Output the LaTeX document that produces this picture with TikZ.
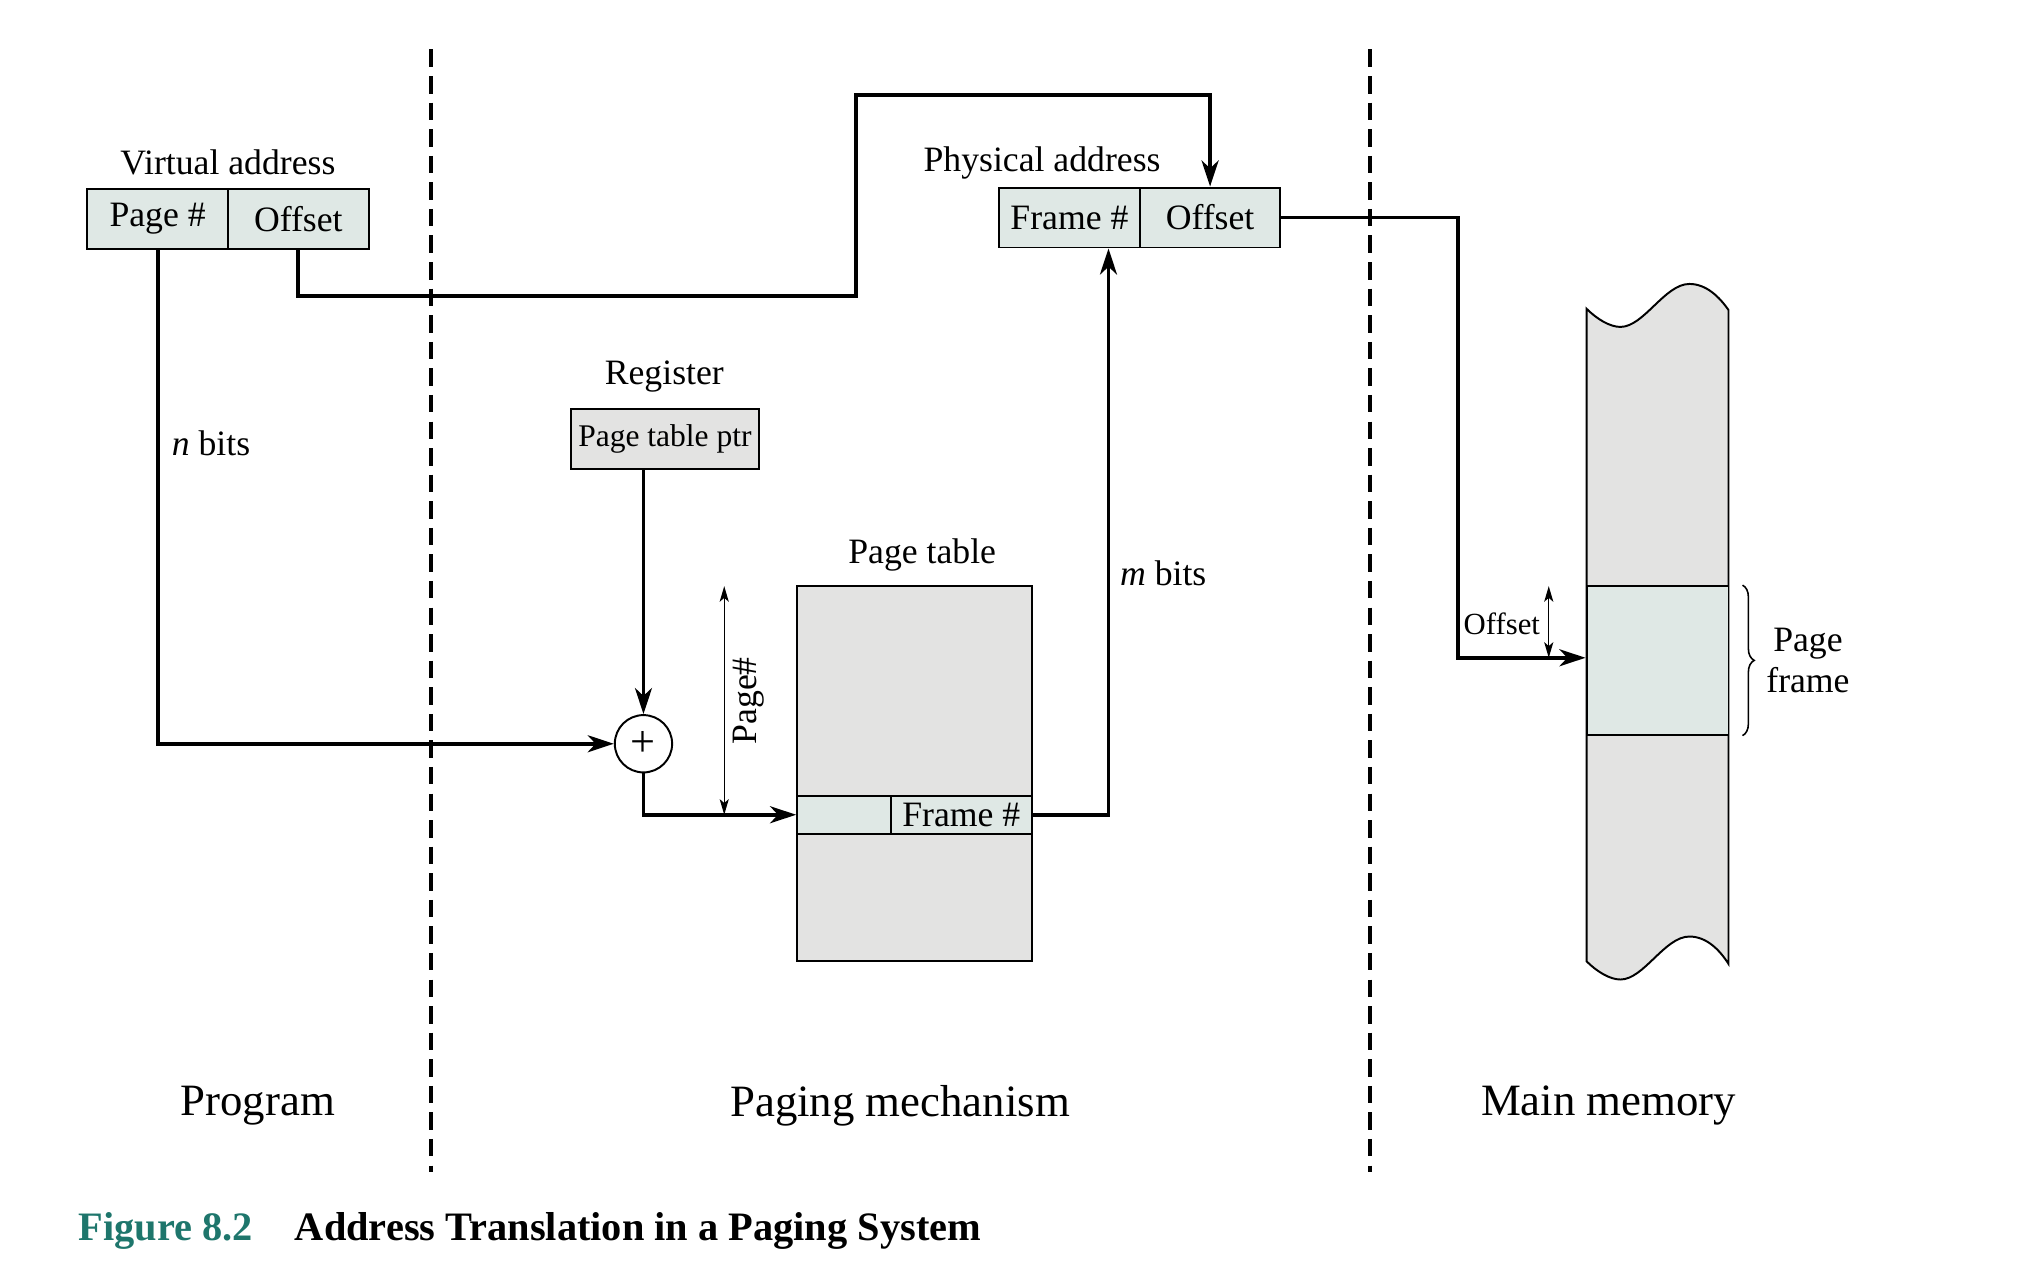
\documentclass[tikz,border=0pt]{standalone}
\usepackage{fontspec}
\setmainfont{Liberation Serif}
\usetikzlibrary{arrows.meta,decorations.pathreplacing}
\definecolor{cellteal}{RGB}{223,232,229}
\definecolor{cellgray}{RGB}{227,227,226}
\definecolor{capteal}{RGB}{30,118,108}
\begin{document}
\begin{tikzpicture}[x=0.5pt,y=-0.5pt,line join=miter,
  every node/.style={font=\fontsize{13.7pt}{15.5pt}\selectfont},
  conn/.style={line width=1.5pt,-{Stealth[length=10pt,width=6.5pt,inset=3pt]}},
  thinarr/.style={line width=0.5pt,{Stealth[length=6pt,width=3.5pt,inset=1.5pt]}-{Stealth[length=6pt,width=3.5pt,inset=1.5pt]}},
  cell/.style={draw,line width=0.75pt,fill=cellteal,inner sep=0pt,minimum height=23pt},
  lbl/.style={inner sep=0pt},
  big/.style={inner sep=0pt,font=\fontsize{17.2pt}{20pt}\selectfont},
  captext/.style={inner sep=0pt,anchor=west,font=\fontsize{15.5pt}{18pt}\selectfont\bfseries},
  divider/.style={line width=1.4pt,dash pattern=on 6.7pt off 3.5pt}]
\useasboundingbox (0,0) rectangle (1560,983);

% region dividers
\coordinate (d1t) at (331,38); \coordinate (d1b) at (331,900);
\coordinate (d2t) at (1052,38); \coordinate (d2b) at (1052,900);
\draw[divider] (d1t) -- (d1b);
\draw[divider] (d2t) -- (d2b);

% virtual address
\node[lbl] (vlab) at (175,125) {Virtual address};
\node[cell,minimum width=54pt] (vpage) at (121,168) {Page \#};
\node[cell,minimum width=54pt] (voff) at (229,168) {Offset};

% physical address
\node[lbl] (plab) at (800,125) {Physical address};
\node[cell,minimum width=54pt] (pframe) at (821,167) {Frame \#};
\node[cell,minimum width=54pt] (poff) at (929,167) {Offset};

% register
\node[lbl] (reglab) at (510,289) {Register};
\node[cell,fill=cellgray,minimum width=72.5pt,font=\fontsize{12.1pt}{14pt}\selectfont] (ptr) at (510.5,337) {Page table ptr};

% adder
\node[circle,draw,line width=0.75pt,minimum size=22pt,inner sep=0pt,fill=white,font=\fontsize{17pt}{17pt}\selectfont] (plus) at (494,571) {+};

% page table
\node[lbl] (ptlab) at (708,426) {Page table};
\node[draw,line width=0.75pt,fill=cellgray,minimum width=90pt,minimum height=144pt,inner sep=0pt] (pt) at (702,594) {};
\node[cell,minimum width=36pt,minimum height=14.5pt] (ptidx) at (648,625.5) {};
\node[cell,minimum width=54pt,minimum height=14.5pt] (ptfr) at (738,625.5) {Frame \#};

% main memory
\draw[line width=0.75pt,fill=cellgray]
  (1218,237) .. controls (1226,245) and (1236,251) .. (1244,251)
  .. controls (1262,251) and (1278,218) .. (1297,218)
  .. controls (1310,218) and (1320,228) .. (1327,238)
  -- (1327,740)
  .. controls (1320,729) and (1310,719) .. (1297,719)
  .. controls (1278,719) and (1262,752) .. (1244,752)
  .. controls (1236,752) and (1226,746) .. (1218,738) -- cycle;
\node[draw,line width=0.75pt,fill=cellteal,minimum width=54.5pt,minimum height=57pt,inner sep=0pt] (pf) at (1272.5,507) {};
\draw[decorate,decoration={brace,amplitude=4.5pt},line width=0.6pt]
  ([xshift=5pt]pf.north east) -- ([xshift=5pt]pf.south east);
\node[lbl,align=center] (pflab) at (1388,507) {Page\\frame};

% labels
\node[lbl] (nbits) at (162,340) {\textit{n} bits};
\node[lbl] (mbits) at (893,440) {\textit{m} bits};
\node[lbl,rotate=90] (pglab) at (575,538) {Page\#};
\node[lbl,font=\fontsize{11.8pt}{13pt}\selectfont] (offlab) at (1153,479) {Offset};

% connectors
\coordinate (c1) at (657,227);
\coordinate (c2) at (657,73);
\coordinate (c4) at (1119,505);
\coordinate (pa) at (556,450);
\coordinate (oa) at (1189,450);
\draw[conn] (vpage.south) |- (plus.west);
\draw[conn] (voff.south) |- (c1) -- (c2) -| (poff.north);
\draw[conn] (plus.north |- ptr.south) -- (plus.north);
\draw[conn] (plus.south) |- (ptidx.west);
\draw[conn] (ptfr.east) -| ([xshift=15pt]pframe.south);
\draw[conn] (poff.east) -| (c4) -- (c4 -| pf.west);
\draw[thinarr] (pa) -- (pa |- ptidx.west);
\draw[thinarr] (oa) -- (oa |- c4);

% region titles
\node[big] (prog) at (198,849) {Program};
\node[big] (pmech) at (691,849) {Paging mechanism};
\node[big] (mmem) at (1235,849) {Main memory};

% caption
\node[captext,text=capteal] (fig) at (60,945) {Figure 8.2};
\node[captext] (title) at (226,945) {Address Translation in a Paging System};
\end{tikzpicture}
\end{document}
